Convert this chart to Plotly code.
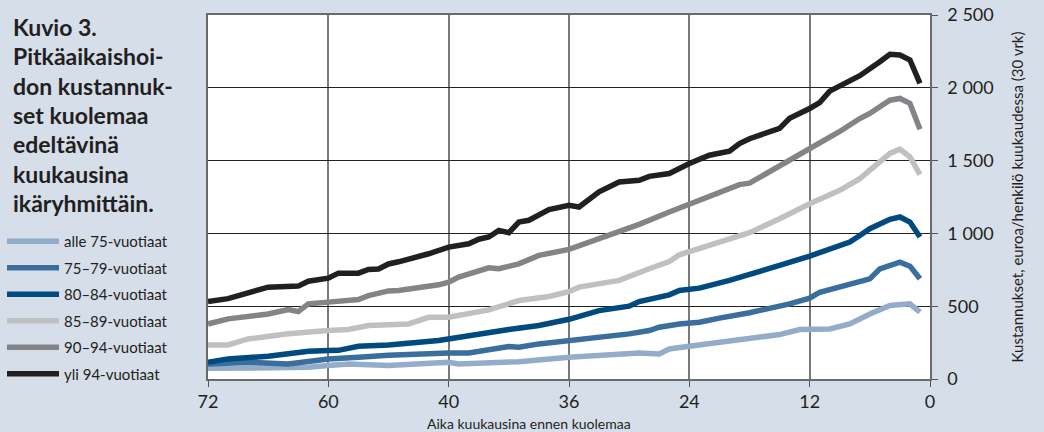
import plotly.graph_objects as go

# ---------------- data (months before death, cost €/person/month) ----------------
series_names = ["alle 75-vuotiaat", "75–79-vuotiaat", "80–84-vuotiaat",
                "85–89-vuotiaat", "90–94-vuotiaat", "yli 94-vuotiaat"]

m_alle75 = [72, 66, 62, 60, 58, 54, 48, 47, 41, 36, 31, 29, 27, 26, 24, 18, 15, 13, 10, 8, 6, 4, 2, 1]
v_alle75 = [73, 73, 80, 92, 103, 92, 115, 103, 119, 149, 165, 179, 172, 206, 225, 275, 305, 340, 344, 378, 447, 505, 516, 459]

m_75_79 = [72, 68, 64, 60, 57, 54, 48, 46, 42, 41, 39, 36, 33, 30, 28, 27, 25, 23, 21, 18, 14, 12, 11, 6, 5, 3, 2, 1]
v_75_79 = [103, 115, 103, 138, 149, 163, 179, 179, 223, 218, 241, 262, 280, 310, 333, 356, 378, 390, 418, 455, 516, 555, 596, 688, 757, 803, 775, 688]

m_80_84 = [72, 70, 66, 62, 60, 59, 57, 54, 49, 48, 46, 42, 39, 36, 33, 30, 29, 26, 25, 23, 20, 18, 15, 12, 8, 7, 6, 4, 3, 2, 1]
v_80_84 = [115, 138, 156, 190, 195, 197, 225, 233, 264, 275, 305, 340, 367, 410, 470, 500, 532, 578, 608, 624, 677, 715, 780, 844, 941, 986, 1032, 1097, 1113, 1078, 975]

m_85_89 = [72, 70, 68, 64, 60, 58, 56, 54, 52, 50, 48, 44, 41, 38, 36, 35, 31, 28, 26, 25, 21, 18, 15, 12, 9, 7, 4, 3, 2, 1]
v_85_89 = [234, 234, 275, 310, 333, 340, 367, 372, 378, 424, 424, 475, 539, 567, 600, 631, 677, 757, 807, 853, 941, 1005, 1101, 1204, 1296, 1376, 1549, 1578, 1526, 1404]

m_90_94 = [72, 70, 66, 64, 63, 62, 60, 57, 56, 54, 53, 51, 49, 48, 47, 44, 43, 41, 39, 36, 32, 29, 26, 25, 24, 21, 19, 18, 16, 12, 9, 7, 6, 5, 4, 3, 2, 1]
v_90_94 = [378, 413, 447, 477, 463, 516, 528, 546, 573, 605, 608, 624, 647, 665, 700, 764, 757, 791, 849, 890, 986, 1062, 1147, 1175, 1193, 1285, 1335, 1345, 1422, 1583, 1700, 1789, 1824, 1870, 1915, 1927, 1893, 1716]

m_yli94 = [72, 70, 66, 63, 62, 60, 59, 57, 56, 55, 54, 53, 50, 48, 46, 45, 44, 43, 42, 41, 40, 39, 38, 36, 35, 33, 31, 29, 28, 26, 24, 22, 20, 19, 18, 15, 14, 12, 11, 10, 7, 5, 4, 3, 2, 1]
v_yli94 = [532, 552, 631, 638, 672, 693, 727, 727, 752, 755, 790, 805, 860, 906, 929, 960, 975, 1021, 1005, 1078, 1090, 1131, 1163, 1193, 1181, 1285, 1353, 1365, 1392, 1411, 1480, 1537, 1565, 1617, 1650, 1721, 1790, 1858, 1899, 1977, 2083, 2179, 2230, 2225, 2191, 2030]

x_tickvals = [72, 60, 48, 36, 24, 12, 0]
x_ticktext = ["72", "60", "40", "36", "24", "12", "0"]
y_tickvals = [0, 500, 1000, 1500, 2000, 2500]
y_ticktext = ["0", "500", "1 000", "1 500", "2 000", "2 500"]

title_lines = ["Kuvio 3.", "Pitkäaikaishoi-", "don kustannuk-", "set kuolemaa",
               "edeltävinä", "kuukausina", "ikäryhmittäin."]

months_list = [m_alle75, m_75_79, m_80_84, m_85_89, m_90_94, m_yli94]
values_list = [v_alle75, v_75_79, v_80_84, v_85_89, v_90_94, v_yli94]
colors = ["#93acca", "#3a6e9d", "#004a80", "#c0c0c2", "#838487", "#231f20"]

# ---------------- layout geometry ----------------
W, H = 1044, 432
L, R, T, B = 208, 930, 15, 379

def px_x(x):
    return (x - L) / (R - L)

def px_y(y):
    return (B - y) / (B - T)

FONT = "Lato"
TXT = "#231f20"

fig = go.Figure()
for name, mm, vv, c in zip(series_names, months_list, values_list, colors):
    fig.add_trace(go.Scatter(
        x=mm, y=vv, mode="lines", name=name, legendgroup=name,
        line=dict(color=c, width=5.5, shape="linear"),
        hoverinfo="skip",
    ))

fig.update_layout(
    width=W, height=H,
    margin=dict(l=L, r=W - R, t=T, b=H - B, pad=0, autoexpand=False),
    paper_bgcolor="#d6dee9",
    plot_bgcolor="#ffffff",
    font=dict(family=FONT, color=TXT),
    showlegend=True,
    legend=dict(
        x=px_x(2), y=px_y(225), xanchor="left", yanchor="top",
        bgcolor="rgba(0,0,0,0)", font=dict(size=15, family=FONT, color=TXT),
        tracegroupgap=4, itemwidth=52, traceorder="grouped",
    ),
    xaxis=dict(
        range=[72, 0], tickmode="array", tickvals=x_tickvals, ticktext=x_ticktext,
        showgrid=True, gridcolor="#7a7a7a", gridwidth=1.5,
        showline=True, linecolor="#6a6a6a", linewidth=1.5, mirror=True,
        ticks="outside", ticklen=6, tickcolor="#555555", tickwidth=1.2,
        tickfont=dict(size=18, family=FONT, color=TXT),
        zeroline=False, automargin=False,
    ),
    yaxis=dict(
        range=[0, 2500], side="right", tickmode="array",
        tickvals=y_tickvals, ticktext=y_ticktext,
        showgrid=True, gridcolor="#222222", gridwidth=1,
        showline=True, linecolor="#6a6a6a", linewidth=1.5, mirror=True,
        ticks="outside", ticklen=6, tickcolor="#555555", tickwidth=1.2,
        ticklabelstandoff=6,
        tickfont=dict(size=18, family=FONT, color=TXT),
        zeroline=False, automargin=False,
        title=dict(text="Kustannukset, euroa/henkilö kuukaudessa (30 vrk)",
                   font=dict(size=15, family=FONT, color=TXT), standoff=20),
    ),
)

for i, line in enumerate(title_lines):
    fig.add_annotation(
        xref="paper", yref="paper", x=px_x(11), y=px_y(27 + 29.3 * i),
        xanchor="left", yanchor="middle", align="left", showarrow=False,
        text="<b>%s</b>" % line,
        font=dict(size=23, family=FONT, color=TXT),
    )
fig.add_annotation(
    xref="paper", yref="paper", x=px_x(529), y=px_y(423),
    xanchor="center", yanchor="middle", showarrow=False,
    text="Aika kuukausina ennen kuolemaa",
    font=dict(size=14, family=FONT, color=TXT),
)

fig.write_html("out.html", config={"displayModeBar": False},
               post_script="document.body.style.margin='0px';")
